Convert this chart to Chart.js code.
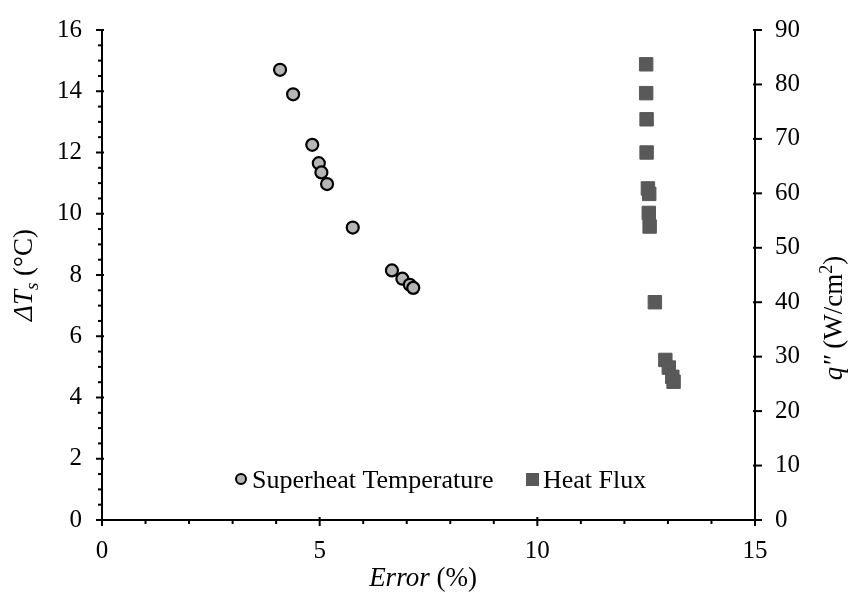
<!DOCTYPE html>
<html>
<head>
<meta charset="utf-8">
<script src="https://cdn.jsdelivr.net/npm/chart.js@4.4.0/dist/chart.umd.min.js"></script>
<style>
  html, body { margin: 0; padding: 0; background: #fff; }
  #wrap { width: 850px; height: 592px; }
</style>
</head>
<body>
<div id="wrap"><canvas id="chart" width="850" height="592"></canvas></div>
<script>
// Data
const errSuperheat = [4.09, 4.39, 4.83, 4.98, 5.04, 5.17, 5.76, 6.66, 6.90, 7.07, 7.15];
const superheat = [14.7, 13.9, 12.25, 11.65, 11.35, 10.97, 9.55, 8.15, 7.88, 7.68, 7.58];
const errFlux = [12.50, 12.50, 12.51, 12.51, 12.54, 12.57, 12.56, 12.58, 12.70, 12.94, 13.02, 13.10, 13.13];
const heatFlux = [83.7, 78.4, 73.6, 67.5, 60.9, 59.9, 56.4, 53.9, 40.0, 29.4, 28.0, 26.3, 25.4];

const xTicks = [0, 5, 10, 15];
const leftTicks = [0, 2, 4, 6, 8, 10, 12, 14, 16];
const rightTicks = [0, 10, 20, 30, 40, 50, 60, 70, 80, 90];
const seriesNames = ['Superheat Temperature', 'Heat Flux'];

const SERIF = '"Liberation Serif", "DejaVu Serif", serif';
const CIRCLE_FILL = '#b5b5b5';
const SQUARE_FILL = '#595959';

function toPoints(xs, ys) {
    return xs.map((x, i) => ({ x: x, y: ys[i] }));
}

// Tick marks (major + minor), axis titles with mixed styles and legend
const decorPlugin = {
    id: 'decor',
    afterDraw(chart) {
        const ctx = chart.ctx;
        const xs = chart.scales.x, yl = chart.scales.y, yr = chart.scales.y2;
        const area = chart.chartArea;
        ctx.save();
        ctx.strokeStyle = '#000';
        ctx.lineWidth = 2;

        // bottom axis ticks
        for (let v = 0; v <= 15; v++) {
            const px = xs.getPixelForValue(v);
            const major = v % 5 === 0;
            ctx.beginPath();
            ctx.moveTo(px, area.bottom - (major ? 3 : 0));
            ctx.lineTo(px, area.bottom + (major ? 6 : 4));
            ctx.stroke();
        }
        // left axis ticks
        for (let v = 0; v <= 16; v += 0.5) {
            const py = yl.getPixelForValue(v);
            const major = v % 2 === 0;
            ctx.beginPath();
            ctx.moveTo(area.left - (major ? 6 : 4), py);
            ctx.lineTo(area.left + (major ? 2 : 0), py);
            ctx.stroke();
        }
        // right axis ticks
        rightTicks.forEach(v => {
            const py = yr.getPixelForValue(v);
            ctx.beginPath();
            ctx.moveTo(area.right - 2, py);
            ctx.lineTo(area.right + 7, py);
            ctx.stroke();
        });

        ctx.fillStyle = '#000';
        ctx.textBaseline = 'alphabetic';

        // helper for runs of text with different fonts
        function drawRuns(runs, cx, cy) {
            let total = 0;
            runs.forEach(r => { ctx.font = r.font; r.w = ctx.measureText(r.t).width; total += r.w; });
            let x = cx - total / 2;
            ctx.textAlign = 'left';
            runs.forEach(r => {
                ctx.font = r.font;
                ctx.fillText(r.t, x, cy + (r.dy || 0));
                x += r.w;
            });
        }

        // bottom title
        drawRuns([
            { t: 'Error', font: 'italic 27px ' + SERIF },
            { t: ' (%)', font: '27px ' + SERIF }
        ], 423, 586);

        // left title
        ctx.save();
        ctx.translate(32, 275);
        ctx.rotate(-Math.PI / 2);
        drawRuns([
            { t: '\u0394T', font: 'italic 27px ' + SERIF },
            { t: 's', font: 'italic 19px ' + SERIF, dy: 6 },
            { t: ' (\u00B0C)', font: '27px ' + SERIF }
        ], 0, 0);
        ctx.restore();

        // right title
        ctx.save();
        ctx.translate(842, 318);
        ctx.rotate(-Math.PI / 2);
        drawRuns([
            { t: 'q\u2033', font: 'italic 27px ' + SERIF },
            { t: ' (W/cm', font: '27px ' + SERIF },
            { t: '2', font: '18px ' + SERIF, dy: -10 },
            { t: ')', font: '27px ' + SERIF }
        ], 0, 0);
        ctx.restore();

        // legend
        ctx.font = '26px ' + SERIF;
        ctx.textAlign = 'left';
        const ly = 479;
        ctx.beginPath();
        ctx.arc(241, ly, 5, 0, Math.PI * 2);
        ctx.fillStyle = CIRCLE_FILL;
        ctx.fill();
        ctx.lineWidth = 2;
        ctx.stroke();
        ctx.fillStyle = '#000';
        ctx.fillText(seriesNames[0], 252, ly + 9);
        ctx.fillStyle = SQUARE_FILL;
        ctx.fillRect(526, ly - 6, 13, 13);
        ctx.fillStyle = '#000';
        ctx.fillText(seriesNames[1], 543, ly + 9);

        ctx.restore();
    }
};

const tickFont = { family: SERIF, size: 25 };

function fitY(width) {
    return s => {
        s.width = width;
        s.paddingTop = 0;
        s.paddingBottom = 0;
    };
}

new Chart(document.getElementById('chart').getContext('2d'), {
    type: 'scatter',
    data: {
        datasets: [{
            label: seriesNames[0],
            data: toPoints(errSuperheat, superheat),
            yAxisID: 'y',
            pointStyle: 'circle',
            pointRadius: 6,
            pointBorderWidth: 2.2,
            borderColor: '#000',
            backgroundColor: CIRCLE_FILL
        }, {
            label: seriesNames[1],
            data: toPoints(errFlux, heatFlux),
            yAxisID: 'y2',
            pointStyle: 'rect',
            pointRadius: 9.5,
            pointBorderWidth: 1,
            borderColor: SQUARE_FILL,
            backgroundColor: SQUARE_FILL
        }]
    },
    options: {
        responsive: false,
        animation: false,
        layout: { padding: { top: 30, left: 0, right: 0, bottom: 0 } },
        plugins: {
            legend: { display: false },
            tooltip: { enabled: false }
        },
        scales: {
            x: {
                type: 'linear',
                min: 0, max: 15,
                afterBuildTicks: s => { s.ticks = xTicks.map(v => ({ value: v })); },
                grid: { display: false, drawTicks: false },
                border: { display: true, color: '#000', width: 2 },
                ticks: { color: '#000', font: tickFont, padding: 16, maxRotation: 0 },
                afterFit: s => { s.height = 72; s.paddingLeft = 0; s.paddingRight = 0; }
            },
            y: {
                type: 'linear',
                position: 'left',
                min: 0, max: 16,
                afterBuildTicks: s => { s.ticks = leftTicks.map(v => ({ value: v })); },
                grid: { display: false, drawTicks: false },
                border: { display: true, color: '#000', width: 2 },
                ticks: { color: '#000', font: tickFont, padding: 20 },
                afterFit: fitY(102)
            },
            y2: {
                type: 'linear',
                position: 'right',
                min: 0, max: 90,
                afterBuildTicks: s => { s.ticks = rightTicks.map(v => ({ value: v })); },
                grid: { display: false, drawTicks: false },
                border: { display: true, color: '#000', width: 2 },
                ticks: { color: '#000', font: tickFont, padding: 20 },
                afterFit: fitY(95)
            }
        }
    },
    plugins: [decorPlugin]
});
</script>
</body>
</html>
